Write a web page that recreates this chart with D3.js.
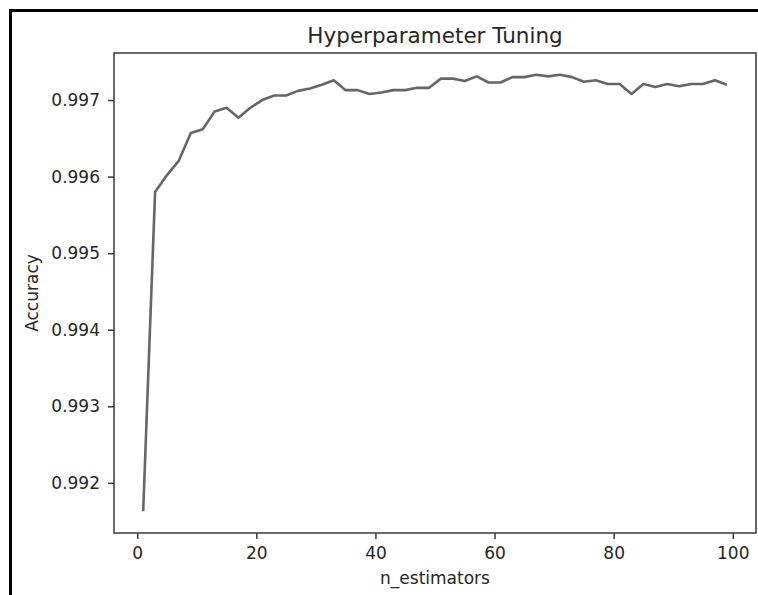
<!DOCTYPE html>
<html>
<head>
<meta charset="utf-8">
<script src="https://cdn.jsdelivr.net/npm/d3@7/dist/d3.min.js"></script>
<style>
  html, body { margin: 0; padding: 0; background: #fff; }
  svg { display: block; font-family: "DejaVu Sans", sans-serif; }
</style>
</head>
<body>
<svg id="chart" width="758" height="595"></svg>
<script>
// ---- data ----
const nEstimators = [1,3,5,7,9,11,13,15,17,19,21,23,25,27,29,31,33,35,37,39,41,43,45,47,49,
                     51,53,55,57,59,61,63,65,67,69,71,73,75,77,79,81,83,85,87,89,91,93,95,97,99];
const accuracy = [0.99163,0.99580,0.99602,0.99621,0.99657,0.99662,0.99685,0.99690,0.99677,0.99690,
                  0.99700,0.99706,0.99706,0.99712,0.99715,0.99720,0.99726,0.99713,0.99713,0.99708,
                  0.99710,0.99713,0.99713,0.99716,0.99716,0.99728,0.99728,0.99725,0.99731,0.99723,
                  0.99723,0.99730,0.99730,0.99733,0.99731,0.99733,0.99730,0.99724,0.99726,0.99721,
                  0.99721,0.99708,0.99721,0.99717,0.99721,0.99718,0.99721,0.99721,0.99726,0.99720];
const xTicks = [0,20,40,60,80,100];
const yTicks = [0.992,0.993,0.994,0.995,0.996,0.997];
const titleText = "Hyperparameter Tuning";
const xLabel = "n_estimators";
const yLabel = "Accuracy";

// ---- layout ----
const svg = d3.select("#chart");
const mLeft = 114, mRight = 756, mTop = 53, mBottom = 533;

const xMin = d3.min(nEstimators), xMax = d3.max(nEstimators);
const xPad = (xMax - xMin) * 0.05;
const yMin = d3.min(accuracy), yMax = d3.max(accuracy);
const yPad = (yMax - yMin) * 0.05;

const x = d3.scaleLinear().domain([xMin - xPad, xMax + xPad]).range([mLeft, mRight]);
const y = d3.scaleLinear().domain([yMin - yPad, yMax + yPad]).range([mBottom, mTop]);

const textColor = "#262626";
const spineColor = "#3a3a3a";

// outer frame (left + top)
svg.append("line").attr("x1", 10.5).attr("x2", 10.5).attr("y1", 9).attr("y2", 595)
  .attr("stroke", "#000").attr("stroke-width", 3);
svg.append("line").attr("x1", 9).attr("x2", 758).attr("y1", 10.5).attr("y2", 10.5)
  .attr("stroke", "#000").attr("stroke-width", 3);

// line
const line = d3.line().x((d, i) => x(nEstimators[i])).y(d => y(d));
svg.append("path").datum(accuracy)
  .attr("fill", "none").attr("stroke", "#666666").attr("stroke-width", 2.6)
  .attr("stroke-linejoin", "round").attr("stroke-linecap", "butt")
  .attr("d", line);

// axes
const xAxis = d3.axisBottom(x).tickValues(xTicks).tickFormat(d3.format("d"))
  .tickSize(6).tickPadding(8).tickSizeOuter(0);
const yAxis = d3.axisLeft(y).tickValues(yTicks).tickFormat(d3.format(".3f"))
  .tickSize(6).tickPadding(8).tickSizeOuter(0);

const gx = svg.append("g").attr("transform", `translate(0,${mBottom})`).call(xAxis);
const gy = svg.append("g").attr("transform", `translate(${mLeft},0)`).call(yAxis);
[gx, gy].forEach(g => {
  g.select(".domain").remove();
  g.selectAll(".tick line").attr("stroke", spineColor).attr("stroke-width", 1.5);
  g.selectAll(".tick text").attr("fill", textColor)
    .style("font-family", "DejaVu Sans, sans-serif").style("font-size", "17px");
});

// spines
svg.append("rect").attr("x", mLeft).attr("y", mTop)
  .attr("width", mRight - mLeft).attr("height", mBottom - mTop)
  .attr("fill", "none").attr("stroke", spineColor).attr("stroke-width", 1.5);

// title & labels
svg.append("text").attr("x", (mLeft + mRight) / 2).attr("y", 43)
  .attr("text-anchor", "middle").attr("fill", textColor)
  .style("font-size", "21.5px").text(titleText);
svg.append("text").attr("x", (mLeft + mRight) / 2).attr("y", 584)
  .attr("text-anchor", "middle").attr("fill", textColor)
  .style("font-size", "17px").text(xLabel);
svg.append("text").attr("transform", `translate(38,${(mTop + mBottom) / 2}) rotate(-90)`)
  .attr("text-anchor", "middle").attr("fill", textColor)
  .style("font-size", "17px").text(yLabel);
</script>
</body>
</html>
